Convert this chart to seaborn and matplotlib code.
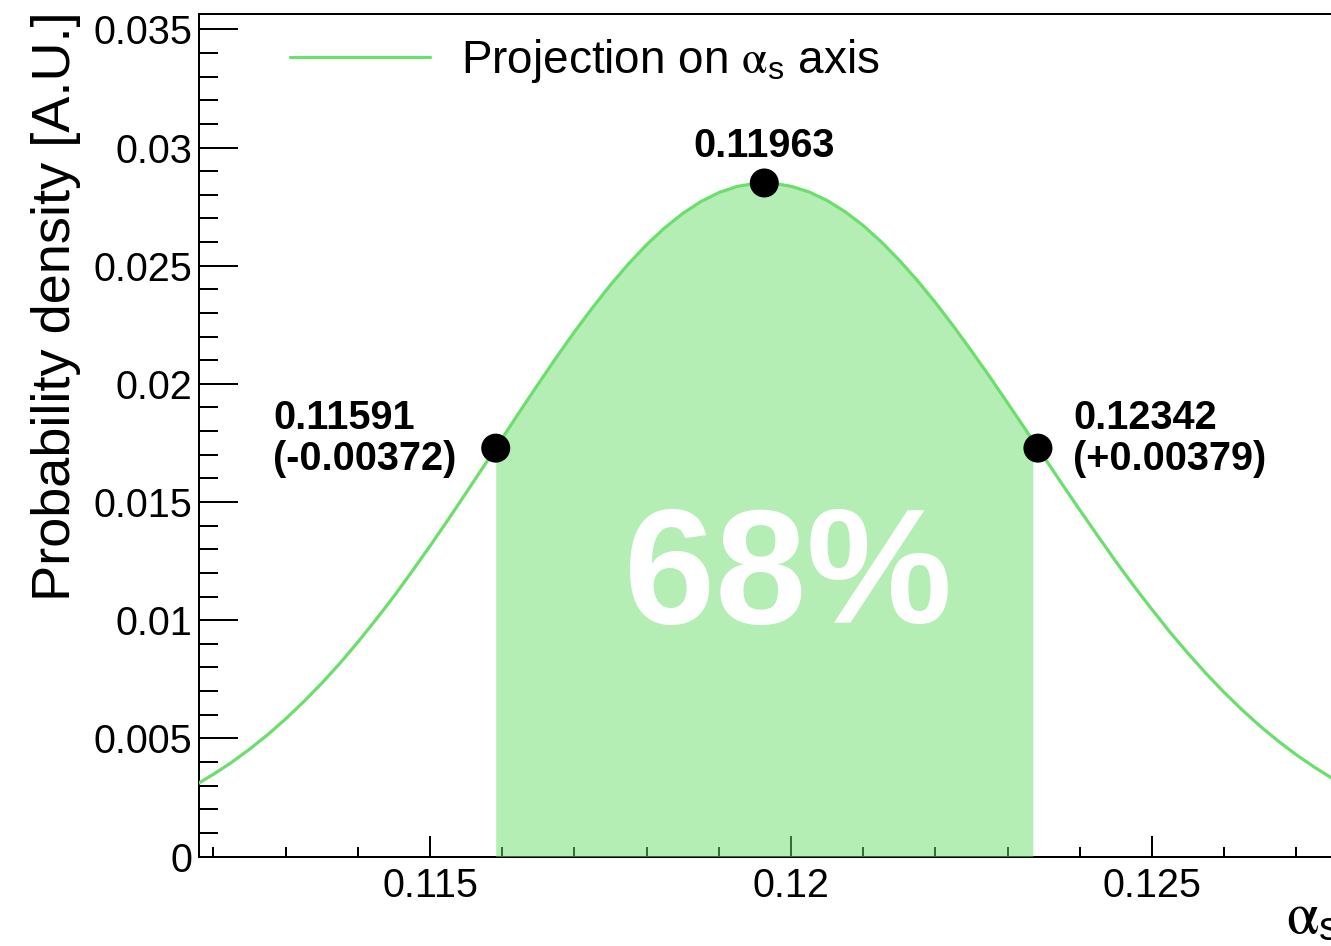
import numpy as np
import pandas as pd
import matplotlib
matplotlib.use("Agg")
import matplotlib.pyplot as plt
import seaborn as sns
from matplotlib.ticker import FixedLocator, MultipleLocator

# ---------------- data ----------------
alpha_s = [0.11150, 0.11175, 0.11200, 0.11225, 0.11250, 0.11275, 0.11300, 0.11325,
           0.11350, 0.11375, 0.11400, 0.11425, 0.11450, 0.11475, 0.11500, 0.11525,
           0.11550, 0.11575, 0.11591, 0.11600, 0.11625, 0.11650, 0.11675, 0.11700,
           0.11725, 0.11750, 0.11775, 0.11800, 0.11825, 0.11850, 0.11875, 0.11900,
           0.11925, 0.11950, 0.11963, 0.11975, 0.12000, 0.12025, 0.12050, 0.12075,
           0.12100, 0.12125, 0.12150, 0.12175, 0.12200, 0.12225, 0.12250, 0.12275,
           0.12300, 0.12325, 0.12335, 0.12342, 0.12350, 0.12375, 0.12400, 0.12425,
           0.12450, 0.12475, 0.12500, 0.12525, 0.12550, 0.12575, 0.12600, 0.12625,
           0.12650, 0.12675, 0.12700, 0.12725, 0.12750, 0.12775]
density = [0.00262, 0.00302, 0.00348, 0.00398, 0.00454, 0.00515, 0.00582, 0.00655,
           0.00733, 0.00817, 0.00907, 0.01002, 0.01101, 0.01206, 0.01314, 0.01425,
           0.01539, 0.01654, 0.01728, 0.01770, 0.01886, 0.02000, 0.02112, 0.02220,
           0.02322, 0.02419, 0.02508, 0.02589, 0.02660, 0.02721, 0.02771, 0.02809,
           0.02835, 0.02848, 0.02850, 0.02849, 0.02836, 0.02812, 0.02776, 0.02728,
           0.02670, 0.02601, 0.02523, 0.02437, 0.02344, 0.02244, 0.02139, 0.02031,
           0.01919, 0.01806, 0.01760, 0.01728, 0.01692, 0.01578, 0.01466, 0.01356,
           0.01248, 0.01144, 0.01045, 0.00949, 0.00859, 0.00774, 0.00694, 0.00620,
           0.00551, 0.00488, 0.00430, 0.00378, 0.00330, 0.00287]

# marked points: lower bound, mode, upper bound
point_x = [0.11591, 0.11963, 0.12342]
point_y = [0.01728, 0.02850, 0.01728]
point_text = ["0.11591", "0.11963", "0.12342"]
point_delta = ["(-0.00372)", "", "(+0.00379)"]

# 68% band edges
band_lo = 0.11591
band_hi = 0.12335
band_text = "68%"

xticks = [0.115, 0.12, 0.125]
xtick_labels = ["0.115", "0.12", "0.125"]
yticks = [0, 0.005, 0.01, 0.015, 0.02, 0.025, 0.03, 0.035]
ytick_labels = ["0", "0.005", "0.01", "0.015", "0.02", "0.025", "0.03", "0.035"]

legend_label = r"Projection on $\mathrm{\alpha}_{\mathregular{s}}$ axis"
xlabel = r"$\mathrm{\alpha}_{\mathregular{s}}$"
ylabel = "Probability density [A.U.]"

# ---------------- style ----------------
sns.set_style("ticks")
plt.rcParams["font.family"] = ["Liberation Sans", "DejaVu Sans"]
plt.rcParams["mathtext.fontset"] = "stix"
plt.rcParams["axes.edgecolor"] = "black"
plt.rcParams["text.color"] = "black"
plt.rcParams["axes.labelcolor"] = "black"

LINE = "#6BDF6B"

W, H = 1331, 946
fig = plt.figure(figsize=(W / 100, H / 100), dpi=100)
ax_left, ax_right, ax_top, ax_bottom = 199, 1340, 14, 856.5
ax = fig.add_axes([ax_left / W, 1 - ax_bottom / H,
                   (ax_right - ax_left) / W, (ax_bottom - ax_top) / H])

df = pd.DataFrame({"alpha_s": alpha_s, "density": density})

sns.lineplot(data=df, x="alpha_s", y="density", color=LINE, linewidth=2.3,
             estimator=None, sort=True, ax=ax, label=legend_label, zorder=4)

xa = np.array(alpha_s)
ya = np.array(density)
inside = (xa >= band_lo) & (xa <= band_hi)
ax.fill_between(xa[inside], 0, ya[inside], color=LINE, alpha=0.5,
                linewidth=0, zorder=3)

sns.scatterplot(x=point_x, y=point_y, s=436, color="black", edgecolor="none",
                ax=ax, legend=False, zorder=5)

ax.set_xlim(0.111800, 0.127604)
ax.set_ylim(0, 0.03565)

ax.xaxis.set_major_locator(FixedLocator(xticks))
ax.set_xticklabels(xtick_labels)
ax.xaxis.set_minor_locator(MultipleLocator(0.001))
ax.yaxis.set_major_locator(FixedLocator(yticks))
ax.set_yticklabels(ytick_labels)
ax.yaxis.set_minor_locator(MultipleLocator(0.001))

ax.tick_params(axis="both", which="both", direction="in", width=1.44,
               colors="black", labelsize=28.5, top=False, right=False)
ax.tick_params(axis="y", which="major", length=28, pad=5)
ax.tick_params(axis="y", which="minor", length=13.7)
ax.tick_params(axis="x", which="major", length=15, pad=7.2)
ax.tick_params(axis="x", which="minor", length=7.2)
for sp in ax.spines.values():
    sp.set_linewidth(1.44)
    sp.set_color("black")
    sp.set_visible(True)

ax.set_xlabel("")
ax.set_ylabel(ylabel, fontsize=39, color="black")
ax.yaxis.set_label_coords(-0.103, 0.653)

ax.text(1.0, (ax_bottom - 933) / (ax_bottom - ax_top), xlabel, transform=ax.transAxes,
        ha="right", va="baseline", fontsize=42, color="black", clip_on=False)

# annotations
offsets = [(-222.7, "left"), (0, "center"), (35.3, "left")]
for (px, py, t1, t2, (dx, ha)) in zip(point_x, point_y, point_text, point_delta, offsets):
    if t2:
        ax.annotate(t1, xy=(px, py), xytext=(dx, 19), textcoords="offset pixels",
                    ha=ha, va="baseline", fontsize=28.5, fontweight="bold",
                    color="black", zorder=6)
        ax.annotate(t2, xy=(px, py), xytext=(dx, -22.3), textcoords="offset pixels",
                    ha=ha, va="baseline", fontsize=28.5, fontweight="bold",
                    color="black", zorder=6)
    else:
        ax.annotate(t1, xy=(px, py), xytext=(dx, 25.7), textcoords="offset pixels",
                    ha=ha, va="baseline", fontsize=28.5, fontweight="bold",
                    color="black", zorder=6)

ax.text((788 - ax_left) / (ax_right - ax_left), (ax_bottom - 622.7) / (ax_bottom - ax_top),
        band_text, transform=ax.transAxes, ha="center", va="baseline",
        fontsize=118, fontweight="bold", color="white", zorder=6)

leg = ax.legend(loc="center left", bbox_to_anchor=(290 / W, 1 - 61 / H),
                bbox_transform=fig.transFigure, frameon=False, fontsize=33,
                handlelength=3.06, handletextpad=0.68, borderpad=0, borderaxespad=0)
for h in leg.get_lines():
    h.set_linewidth(2.3)
for t in leg.get_texts():
    t.set_color("black")

fig.savefig("out.png", dpi=100)
